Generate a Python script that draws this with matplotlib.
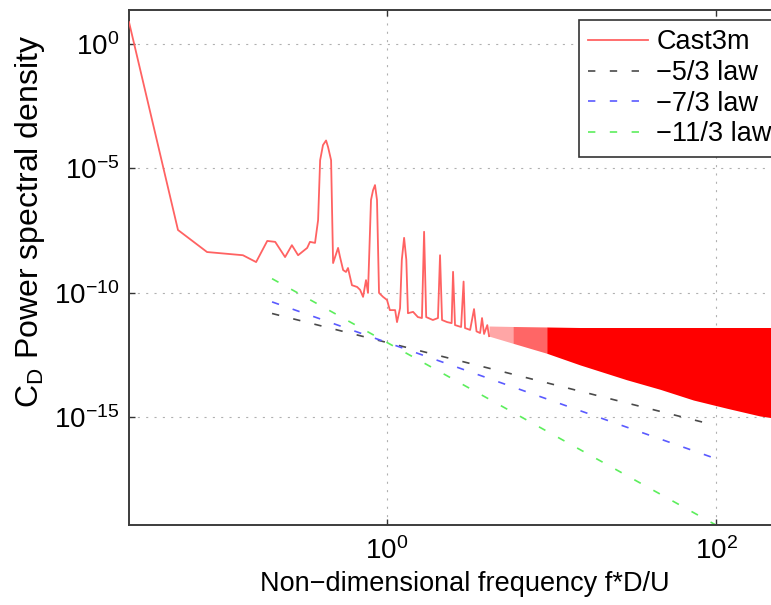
import matplotlib
matplotlib.use('Agg')
import matplotlib.pyplot as plt
from matplotlib.ticker import FixedLocator, NullLocator

# resolved low-frequency part of the Cast3m drag spectrum
freq = [0.0270, 0.0536, 0.0805, 0.133, 0.160, 0.187, 0.209, 0.240, 0.264, 0.288,
        0.327, 0.340, 0.365, 0.381, 0.392, 0.408, 0.426, 0.438, 0.457, 0.470,
        0.504, 0.518, 0.541, 0.563, 0.579, 0.612, 0.658, 0.686, 0.715, 0.745,
        0.766, 0.799, 0.822, 0.845, 0.869, 0.894, 0.946, 1.00, 1.04, 1.12,
        1.15, 1.20, 1.23, 1.27, 1.31, 1.34, 1.44, 1.54, 1.63, 1.68,
        1.73, 1.90, 2.04, 2.10, 2.16, 2.32, 2.47, 2.52, 2.59, 2.82,
        2.92, 2.98, 3.20, 3.38, 3.50, 3.68, 3.78, 3.89, 4.07, 4.17]
psd = [7.4, 3.3e-8, 4.3e-9, 3.2e-9, 1.7e-9, 1.2e-8, 1.1e-8, 2.7e-9, 8.1e-9, 3.2e-9,
       6.3e-9, 1.1e-8, 1.0e-8, 8.3e-8, 2.1e-5, 8.5e-5, 1.3e-4, 7.1e-5, 2.1e-5, 1.55e-9,
       6.3e-9, 2.7e-9, 8.1e-10, 6.8e-10, 9.8e-10, 2.0e-10, 1.7e-10, 1.3e-10, 6.8e-11, 3.2e-10,
       9.8e-11, 5.3e-7, 1.3e-6, 2.1e-6, 5.3e-7, 9.8e-11, 6.8e-11, 5.1e-11, 2.0e-11, 2.0e-11,
       6.6e-12, 2.4e-11, 2.1e-9, 1.6e-8, 2.1e-9, 1.5e-11, 1.7e-11, 1.05e-11, 9.6e-12, 2.8e-8,
       1.05e-11, 8.0e-12, 9.6e-12, 3.2e-9, 8.0e-12, 6.6e-12, 6.0e-12, 6.9e-10, 5.0e-12, 4.2e-12,
       2.8e-10, 3.8e-12, 3.2e-12, 2.2e-11, 2.8e-12, 2.4e-12, 9.6e-12, 2.2e-12, 5.0e-12, 1.8e-12]

# high-frequency part: dense oscillation band (lower / upper envelope)
env_freq = [4.17, 5.83, 9.35, 14.9, 28.6, 45.7, 72.8, 116, 185, 251, 331]
env_low = [1.8e-12, 9.3e-13, 3.7e-13, 1.26e-13, 3.2e-14, 1.32e-14, 4.9e-15, 2.3e-15, 1.12e-15, 8.3e-16, 5.5e-16]
env_high = [4.6e-12, 4.4e-12, 4.2e-12, 4.0e-12, 4.0e-12, 4.0e-12, 4.0e-12, 4.0e-12, 4.0e-12, 4.0e-12, 4.0e-12]

# reference power laws
law_freq = [0.2, 100]
law_53 = [1.46e-11, 4.64e-16]
law_73 = [4.27e-11, 2.15e-17]
law_113 = [3.66e-10, 4.64e-20]

plt.rcParams['font.family'] = ['Liberation Sans', 'DejaVu Sans']
plt.rcParams['mathtext.default'] = 'regular'
plt.rcParams['lines.scale_dashes'] = False

fig = plt.figure(figsize=(7.71, 6.05), dpi=100)
ax = fig.add_axes([129/771, 1-525/605, (800-129)/771, (525-10)/605])

ax.plot(freq, psd, color='#ff6262', lw=1.3, label='Cast3m', zorder=3)
# sparse spikes first (lighter), then the saturated band in one piece
shade = [0.35, 0.6]
for i in range(len(shade)):
    ax.fill_between(env_freq[i:i+2], env_low[i:i+2], env_high[i:i+2],
                    color='red', alpha=shade[i], lw=0, antialiased=False, zorder=3)
ax.fill_between(env_freq[2:], env_low[2:], env_high[2:],
                color='red', lw=0, antialiased=False, zorder=3)

dash = (5.3, 10.4)
ax.plot(law_freq, law_53, color='#4a4a4a', lw=1.2, dashes=dash, label='\u22125/3 law')
ax.plot(law_freq, law_73, color='#5a5aff', lw=1.2, dashes=dash, label='\u22127/3 law')
ax.plot(law_freq, law_113, color='#5cee5c', lw=1.2, dashes=dash, label='\u221211/3 law')

ax.set_xscale('log')
ax.set_yscale('log')
ax.set_xlim(0.027, 324)
ax.set_ylim(4.68e-20, 22.6)
ax.xaxis.set_major_locator(FixedLocator([1, 100]))
ax.yaxis.set_major_locator(FixedLocator([1e-15, 1e-10, 1e-5, 1]))
ax.xaxis.set_minor_locator(NullLocator())
ax.yaxis.set_minor_locator(NullLocator())

ax.grid(True, color='#b0b0b0', lw=0.8, linestyle=(0, (1.5, 4.5)))
ax.tick_params(direction='in', top=True, right=True, length=4, width=1,
               color='#333333', labelsize=20)
ax.tick_params(axis='x', pad=9)
ax.tick_params(axis='y', pad=7)
for s in ax.spines.values():
    s.set_color('#3c3c3c')
    s.set_linewidth(1.4)

ax.set_xlabel('Non\u2212dimensional frequency f*D/U', fontsize=19.5, labelpad=4)
ax.set_ylabel('C$_D$ Power spectral density', fontsize=23)
ax.yaxis.set_label_coords(-0.122, 0.59)

leg = ax.legend(loc='upper left', bbox_to_anchor=(579/771, 1-20/605),
                bbox_transform=fig.transFigure, fontsize=19.5, frameon=True,
                fancybox=False, edgecolor='#333333', framealpha=1,
                borderpad=0.35, labelspacing=0.17, handlelength=2.2,
                handletextpad=0.3, borderaxespad=0)
leg.get_frame().set_linewidth(1.2)

fig.savefig('out.png', dpi=100)
